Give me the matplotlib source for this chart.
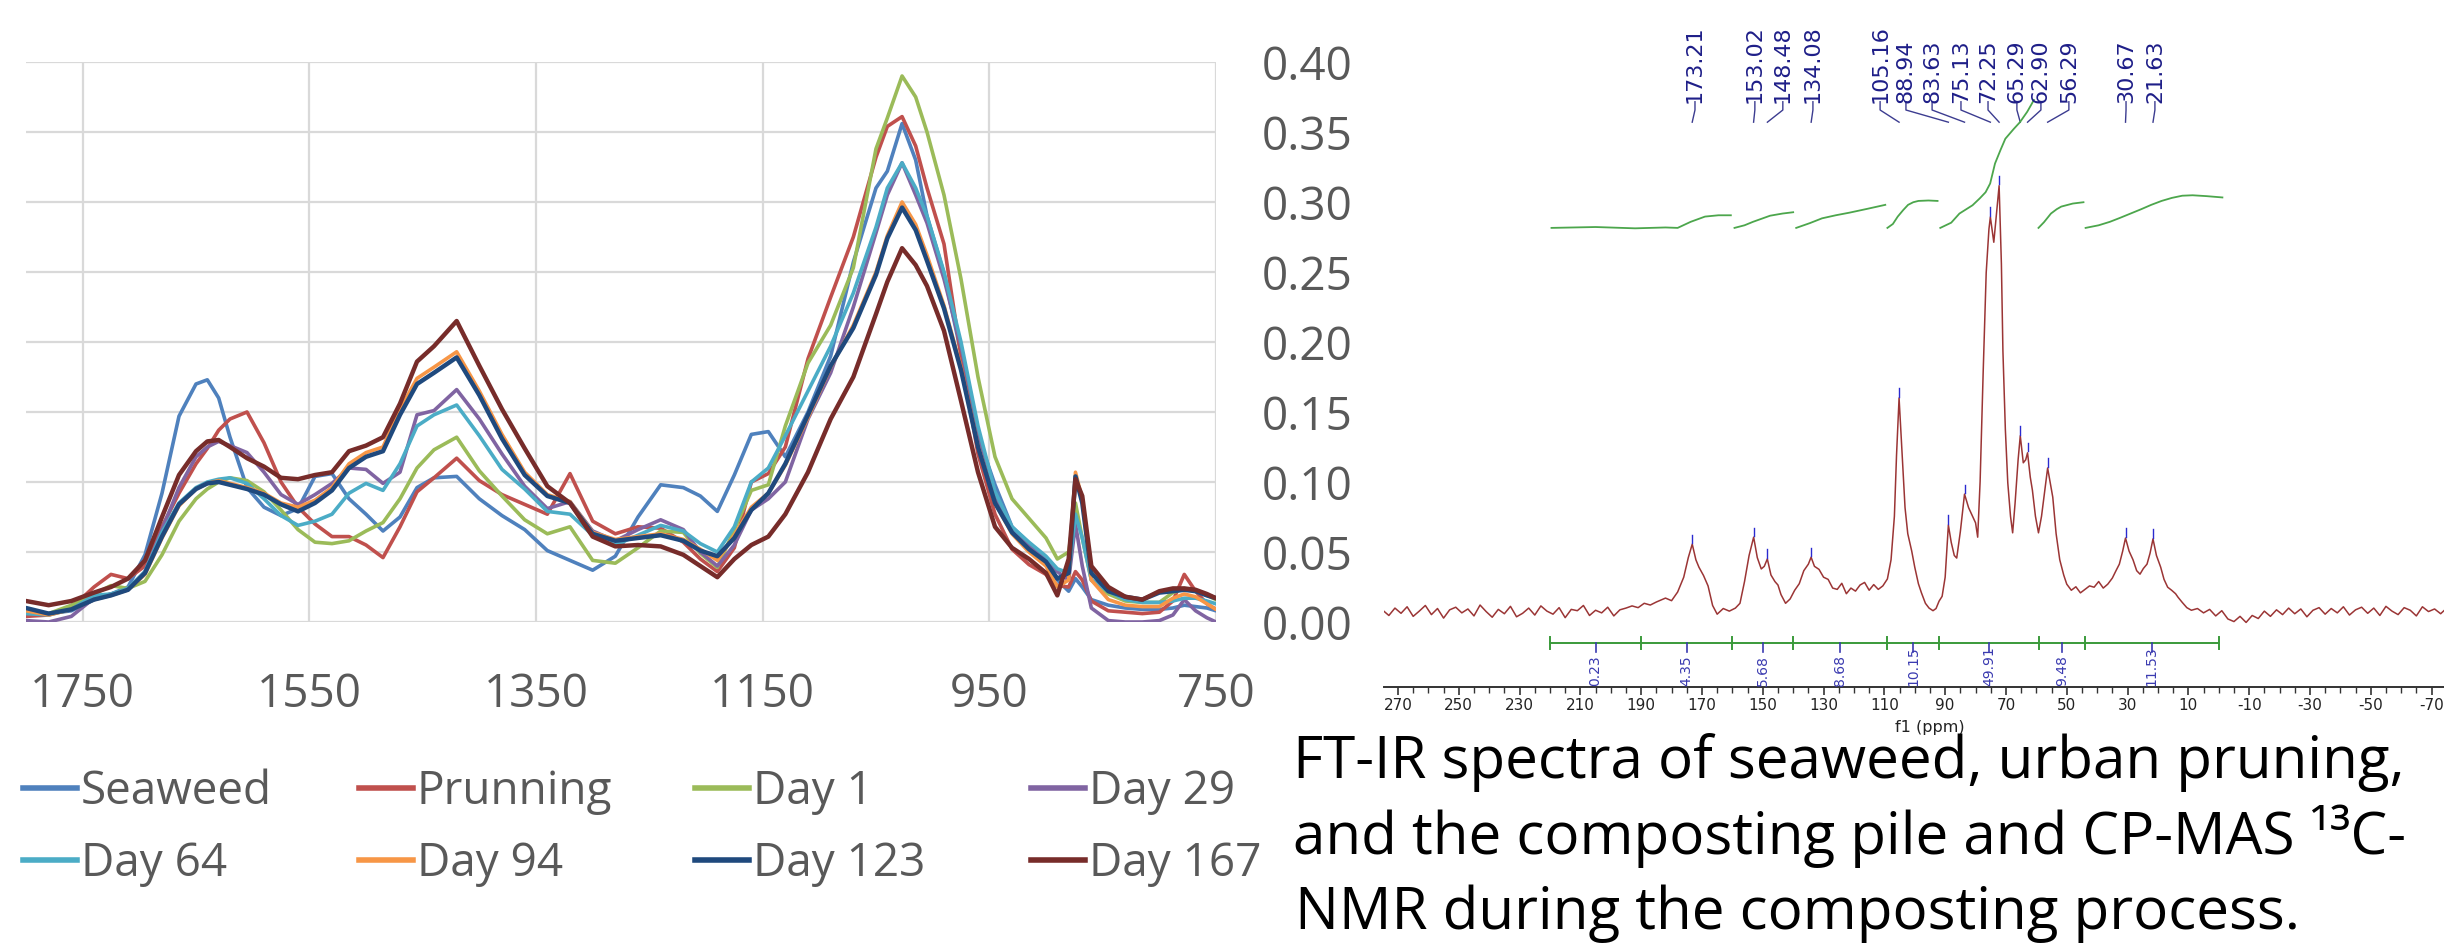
import numpy as np
import matplotlib.pyplot as plt
from matplotlib.lines import Line2D
from matplotlib.ticker import FixedLocator, MultipleLocator

# ============================================================
# Fonts
# ============================================================
plt.rcParams["font.family"] = ["Open Sans", "DejaVu Sans"]
nmr_font = "DejaVu Sans"

W, H = 2444, 944

# ============================================================
# FT-IR data (absorbance)
# ============================================================
wavenumber = [1800, 1780, 1760, 1740, 1725, 1710, 1695, 1680, 1665, 1650,
              1640, 1630, 1620, 1605, 1590, 1575, 1560, 1545, 1530, 1515,
              1500, 1485, 1470, 1455, 1440, 1420, 1400, 1380, 1360, 1340,
              1320, 1300, 1280, 1260, 1240, 1220, 1205, 1190, 1175, 1160,
              1145, 1130, 1110, 1090, 1070, 1050, 1040, 1027, 1015, 1005,
              990, 975, 960, 945, 930, 915, 900, 890, 880, 874,
              868, 860, 845, 830, 815, 800, 788, 778, 768, 758,
              750]

seaweed = [0.009, 0.006, 0.008, 0.016, 0.020, 0.025, 0.048, 0.092, 0.147, 0.170,
           0.173, 0.160, 0.132, 0.096, 0.082, 0.076, 0.081, 0.104, 0.106, 0.088,
           0.077, 0.065, 0.075, 0.096, 0.103, 0.104, 0.088, 0.076, 0.066, 0.051,
           0.044, 0.037, 0.047, 0.075, 0.098, 0.096, 0.090, 0.079, 0.105, 0.134,
           0.136, 0.118, 0.150, 0.190, 0.257, 0.310, 0.322, 0.356, 0.330, 0.290,
           0.249, 0.192, 0.133, 0.098, 0.068, 0.056, 0.045, 0.030, 0.022, 0.031,
           0.025, 0.016, 0.012, 0.010, 0.009, 0.009, 0.010, 0.012, 0.011, 0.010,
           0.008]
prunning = [0.004, 0.005, 0.010, 0.025, 0.034, 0.031, 0.040, 0.068, 0.092, 0.113,
            0.124, 0.137, 0.145, 0.150, 0.128, 0.100, 0.082, 0.070, 0.061, 0.061,
            0.055, 0.046, 0.068, 0.093, 0.103, 0.117, 0.101, 0.091, 0.084, 0.077,
            0.106, 0.072, 0.063, 0.068, 0.067, 0.057, 0.045, 0.036, 0.053, 0.100,
            0.106, 0.125, 0.188, 0.232, 0.275, 0.332, 0.354, 0.361, 0.340, 0.310,
            0.270, 0.190, 0.120, 0.077, 0.052, 0.041, 0.034, 0.026, 0.025, 0.036,
            0.030, 0.015, 0.008, 0.007, 0.006, 0.007, 0.015, 0.034, 0.022, 0.013,
            0.009]
day1 = [0.008, 0.006, 0.012, 0.020, 0.026, 0.024, 0.029, 0.048, 0.072, 0.088,
        0.095, 0.100, 0.103, 0.101, 0.093, 0.080, 0.066, 0.057, 0.056, 0.058,
        0.065, 0.071, 0.088, 0.110, 0.123, 0.132, 0.108, 0.090, 0.073, 0.063,
        0.068, 0.044, 0.042, 0.053, 0.065, 0.064, 0.049, 0.039, 0.066, 0.094,
        0.098, 0.140, 0.185, 0.212, 0.253, 0.338, 0.360, 0.390, 0.375, 0.350,
        0.305, 0.245, 0.175, 0.118, 0.088, 0.074, 0.060, 0.045, 0.050, 0.085,
        0.060, 0.030, 0.020, 0.015, 0.014, 0.014, 0.021, 0.024, 0.022, 0.019,
        0.016]
day29 = [0.001, 0.000, 0.004, 0.017, 0.020, 0.023, 0.036, 0.066, 0.096, 0.118,
         0.125, 0.129, 0.126, 0.121, 0.107, 0.091, 0.084, 0.091, 0.099, 0.110,
         0.109, 0.099, 0.107, 0.148, 0.151, 0.166, 0.145, 0.120, 0.097, 0.081,
         0.086, 0.065, 0.058, 0.066, 0.073, 0.066, 0.050, 0.040, 0.055, 0.080,
         0.088, 0.100, 0.145, 0.178, 0.225, 0.278, 0.305, 0.328, 0.305, 0.285,
         0.245, 0.197, 0.137, 0.090, 0.064, 0.054, 0.044, 0.036, 0.030, 0.070,
         0.040, 0.010, 0.001, 0.000, 0.000, 0.001, 0.005, 0.016, 0.008, 0.003,
         0.000]
day64 = [0.006, 0.005, 0.009, 0.019, 0.020, 0.024, 0.036, 0.064, 0.085, 0.096,
         0.100, 0.102, 0.103, 0.099, 0.088, 0.076, 0.069, 0.072, 0.077, 0.092,
         0.099, 0.094, 0.113, 0.140, 0.148, 0.155, 0.133, 0.109, 0.095, 0.079,
         0.077, 0.062, 0.055, 0.062, 0.069, 0.065, 0.056, 0.050, 0.068, 0.100,
         0.110, 0.133, 0.165, 0.197, 0.235, 0.282, 0.310, 0.328, 0.310, 0.290,
         0.250, 0.200, 0.140, 0.093, 0.068, 0.057, 0.047, 0.038, 0.035, 0.077,
         0.060, 0.030, 0.022, 0.016, 0.014, 0.014, 0.015, 0.017, 0.017, 0.015,
         0.013]
day94 = [0.008, 0.005, 0.009, 0.016, 0.019, 0.023, 0.034, 0.060, 0.083, 0.095,
         0.099, 0.101, 0.099, 0.096, 0.092, 0.085, 0.082, 0.087, 0.096, 0.113,
         0.121, 0.125, 0.152, 0.174, 0.182, 0.193, 0.165, 0.134, 0.107, 0.091,
         0.086, 0.064, 0.059, 0.061, 0.063, 0.059, 0.052, 0.044, 0.062, 0.082,
         0.092, 0.112, 0.146, 0.182, 0.212, 0.250, 0.276, 0.300, 0.284, 0.262,
         0.226, 0.182, 0.126, 0.085, 0.063, 0.050, 0.040, 0.025, 0.030, 0.107,
         0.088, 0.030, 0.016, 0.012, 0.011, 0.011, 0.017, 0.020, 0.018, 0.013,
         0.009]
day123 = [0.010, 0.006, 0.009, 0.016, 0.019, 0.023, 0.035, 0.061, 0.084, 0.095,
          0.099, 0.100, 0.098, 0.095, 0.091, 0.084, 0.079, 0.085, 0.094, 0.110,
          0.118, 0.122, 0.148, 0.170, 0.178, 0.189, 0.162, 0.131, 0.105, 0.090,
          0.085, 0.063, 0.058, 0.060, 0.062, 0.058, 0.051, 0.047, 0.060, 0.080,
          0.092, 0.113, 0.148, 0.183, 0.210, 0.248, 0.274, 0.296, 0.280, 0.258,
          0.224, 0.180, 0.125, 0.085, 0.064, 0.052, 0.043, 0.031, 0.035, 0.104,
          0.085, 0.035, 0.022, 0.018, 0.016, 0.021, 0.022, 0.023, 0.022, 0.019,
          0.017]
day167 = [0.015, 0.012, 0.015, 0.021, 0.025, 0.031, 0.044, 0.075, 0.105, 0.122,
          0.129, 0.130, 0.125, 0.117, 0.111, 0.103, 0.102, 0.105, 0.107, 0.122,
          0.126, 0.132, 0.156, 0.186, 0.197, 0.215, 0.183, 0.152, 0.124, 0.097,
          0.085, 0.061, 0.054, 0.055, 0.054, 0.048, 0.040, 0.032, 0.045, 0.055,
          0.061, 0.077, 0.107, 0.145, 0.175, 0.220, 0.243, 0.267, 0.255, 0.240,
          0.208, 0.158, 0.107, 0.068, 0.053, 0.045, 0.035, 0.019, 0.045, 0.102,
          0.090, 0.040, 0.025, 0.018, 0.016, 0.022, 0.024, 0.024, 0.023, 0.020,
          0.017]

series_names = ["Seaweed", "Prunning", "Day 1", "Day 29",
                "Day 64", "Day 94", "Day 123", "Day 167"]
series_values = [seaweed, prunning, day1, day29, day64, day94, day123, day167]
series_colors = ["#4f81bd", "#c0504d", "#9bbb59", "#8064a2",
                 "#4bacc6", "#f79646", "#1f497d", "#772c2a"]
series_widths = [2.6, 2.6, 2.6, 2.6, 2.6, 2.6, 3.2, 3.2]

ftir_xticks = [1750, 1550, 1350, 1150, 950, 750]
ftir_yticks = [0.00, 0.05, 0.10, 0.15, 0.20, 0.25, 0.30, 0.35, 0.40]

# ============================================================
# 13C CP-MAS NMR data (relative intensity, tallest peak = 100)
# ============================================================
nmr_left_ppm = np.arange(275, 186, -2)
nmr_left_int = [0.4, -0.8, 0.9, -0.3, 1.2, -1.0, 0.2, 1.5, -0.6, 0.8,
                -1.4, 0.5, 1.1, -0.2, 0.7, -0.9, 1.6, 0.1, -1.2, 0.6,
                -0.4, 1.3, -1.1, -0.3, 0.9, -0.7, 1.4, 0.2, -0.5, 1.0,
                -1.3, 0.6, 0.3, 1.5, -0.8, 0.4, -0.2, 1.1, -0.9, 0.5,
                0.9, 1.4, 1.0, 2.0, 1.6]
nmr_mid_ppm = [185, 182, 180, 178, 176, 174.5, 173.2, 172, 171, 169.5,
               168, 166.5, 165, 163, 161, 159, 157.5, 156, 154.5, 153.0,
               151.8, 150.5, 149.5, 148.5, 147.3, 146, 145, 144, 142.5, 141,
               139.5, 138, 136.5, 135, 134.1, 133, 131.5, 130, 128.5, 127,
               125.5, 124, 122.5, 121, 119.5, 118, 116.5, 115, 113.5, 112,
               110.5, 109, 107.8, 106.7, 106, 105.16, 104.3, 103.2, 102.3, 101,
               100, 98.8, 97.8, 96.5, 95.3, 94, 93, 92, 91, 90,
               88.94, 88, 87, 86.2, 85, 83.63, 82.3, 81, 80, 79.3,
               78.5, 77.5, 76.5, 75.6, 75.13, 74.0, 72.25, 71.5, 71, 70.2,
               69.4, 68.5, 67.8, 67, 66, 65.29, 64.3, 63.5, 62.9, 62.0,
               61.3, 60.3, 59.3, 58.3, 57.2, 56.29, 55.5, 54.6, 53.5, 52.3,
               51, 50, 48.5, 47, 45.5, 44, 42.5, 41, 39.5, 38,
               36.5, 35, 33.8, 32.7, 31.6, 30.67, 29.5, 28.2, 27, 25.9,
               24.8, 23.6, 22.6, 21.63, 20.5, 19.1, 18, 16.8, 15.5, 14.2,
               13.4, 12, 10.5, 9]
nmr_mid_int = [2.3, 3.2, 2.6, 4.6, 8.0, 12.5, 15.6, 12.0, 10.3, 8.4,
               6.0, 1.5, -0.5, 0.8, 0.2, 0.9, 2.0, 7.0, 13.0, 17.2,
               12.5, 9.9, 10.5, 12.2, 8.5, 7.0, 6.2, 4.0, 2.0, 3.0,
               5.0, 6.5, 9.5, 11.0, 12.6, 10.5, 9.8, 8.0, 7.5, 5.5,
               5.2, 6.6, 4.2, 5.5, 4.8, 6.2, 6.8, 5.0, 6.3, 5.2,
               6.0, 7.6, 12.0, 22.0, 36.0, 49.2, 38.0, 24.0, 18.0, 14.0,
               10.3, 6.5, 4.4, 2.0, 0.9, 0.3, 0.8, 2.5, 3.6, 8.0,
               20.0, 16.0, 13.0, 12.4, 18.5, 27.1, 24.0, 22.0, 20.5, 17.2,
               30.0, 55.0, 78.0, 88.0, 90.8, 85.0, 98.0, 80.0, 60.0, 42.0,
               29.7, 22.0, 18.2, 25.0, 35.0, 40.5, 34.3, 35.0, 36.6, 31.0,
               28.0, 22.0, 18.2, 22.0, 28.0, 33.1, 30.0, 26.4, 18.0, 12.0,
               8.5, 6.4, 5.0, 5.8, 4.4, 5.2, 6.0, 5.7, 7.0, 5.5,
               6.4, 7.8, 9.5, 11.0, 14.0, 17.0, 14.0, 12.0, 9.5, 8.7,
               10.0, 11.0, 13.5, 16.8, 13.0, 10.3, 7.5, 5.7, 5.0, 4.2,
               3.4, 2.2, 1.0, 0.4]
nmr_right_ppm = np.arange(7, -76, -2)
nmr_right_int = [0.8, -0.2, 0.6, -0.9, 0.3, -1.6, -2.2, -1.0, -2.4, -0.8,
                 -1.5, 0.2, -1.0, 0.5, -0.6, 0.9, -0.4, 0.7, -1.1, 0.4,
                 1.0, -0.5, 0.8, -0.2, 1.2, -0.7, 0.5, 1.1, -0.3, 0.9,
                 -0.8, 1.3, 0.2, -0.6, 1.0, 0.4, -0.9, 1.2, 0.1, 0.7,
                 -0.4, 0.9]

peak_ppm = [173.21, 153.02, 148.48, 134.08, 105.16, 88.94, 83.63,
            75.13, 72.25, 65.29, 62.90, 56.29, 30.67, 21.63]
peak_height = [15.6, 17.2, 12.2, 12.6, 49.2, 20.0, 27.1,
               90.8, 98.0, 40.5, 36.6, 33.1, 17.0, 16.8]
peak_label_ppm = [172.3, 152.6, 143.4, 133.5, 111.4, 102.9, 94.3,
                  84.8, 75.9, 66.4, 58.5, 49.3, 30.5, 21.0]

integ_edges = [220, 190, 160, 140, 109, 92, 59, 44, 0]
integ_values = [0.23, 4.35, 5.68, 8.68, 10.15, 49.91, 9.48, 11.53]

integ_curve_ppm = [
    [219.5, 205, 192, 182, 178, 173.7, 169, 164.6, 160.5],
    [159.3, 156, 153.2, 150, 147.6, 143.5, 140],
    [139, 134.5, 130.5, 126, 121.5, 115.5, 109.7],
    [109, 107.2, 105.6, 103.8, 102.2, 100.5, 98.8, 95.5, 92.5],
    [91.6, 88, 85.3, 81, 78.6, 76.7, 75.2, 73.6, 71.8, 70.2, 67.5, 65.4, 63, 60.8],
    [59.3, 57.5, 55.2, 53.3, 51.8, 48, 44.5],
    [43.8, 39.5, 35.8, 32.5, 29, 25.5, 22.2, 18.8, 15.4, 12, 8.6, 4, -1.2],
]
integ_curve_y = [
    [88.3, 88.5, 88.2, 88.4, 88.3, 89.7, 90.9, 91.2, 91.2],
    [88.3, 88.9, 89.7, 90.5, 91.1, 91.6, 91.9],
    [88.3, 89.4, 90.5, 91.2, 91.8, 92.7, 93.6],
    [88.3, 89.2, 90.9, 92.4, 93.6, 94.2, 94.5, 94.6, 94.5],
    [88.3, 89.5, 91.6, 93.5, 95.1, 96.5, 98.5, 103.1, 106.2, 108.8, 111.0, 112.6, 115.0, 117.7],
    [88.3, 89.6, 91.6, 92.6, 93.2, 93.9, 94.2],
    [88.3, 88.9, 89.7, 90.6, 91.6, 92.6, 93.6, 94.5, 95.2, 95.7, 95.8, 95.6, 95.3],
]

nmr_xticks = [270, 250, 230, 210, 190, 170, 150, 130, 110, 90,
              70, 50, 30, 10, -10, -30, -50, -70]

caption_lines = ["FT-IR spectra of seaweed, urban pruning,",
                 "and the composting pile and CP-MAS \u00b9\u00b3C-",
                 "NMR during the composting process."]

# ============================================================
# Figure
# ============================================================
fig = plt.figure(figsize=(W / 100, H / 100), dpi=100)
fig.patch.set_facecolor("white")

# ---------------- FT-IR panel ----------------
ax1 = fig.add_axes([26 / W, 1 - 622 / H, (1216 - 26) / W, (622 - 62) / H])
for name, vals, color, lw in zip(series_names, series_values, series_colors, series_widths):
    ax1.plot(wavenumber, vals, color=color, lw=lw, label=name,
             solid_joinstyle="round", solid_capstyle="round")

ax1.set_xlim(1800, 750)
ax1.set_ylim(0, 0.40)
ax1.set_xticks(ftir_xticks)
ax1.set_xticklabels([str(t) for t in ftir_xticks])
ax1.set_yticks(ftir_yticks)
ax1.set_yticklabels([f"{v:.2f}" for v in ftir_yticks])
ax1.yaxis.tick_right()
ax1.tick_params(axis="both", length=0, labelsize=33, labelcolor="#595959")
ax1.tick_params(axis="x", pad=36)
ax1.tick_params(axis="y", pad=33)
ax1.grid(True, color="#d9d9d9", lw=1.6)
ax1.set_axisbelow(True)
for s in ax1.spines.values():
    s.set_visible(False)

# legend laid out like the Excel one: 4 columns x 2 rows
leg_x0, leg_dx, leg_rows = 23, 336, [788, 860]
for i, (name, color) in enumerate(zip(series_names, series_colors)):
    row, col = divmod(i, 4)
    x0 = leg_x0 + col * leg_dx
    y0 = leg_rows[row]
    fig.add_artist(Line2D([x0 / W, (x0 + 54) / W], [1 - y0 / H, 1 - y0 / H],
                          transform=fig.transFigure, color=color, lw=4))
    fig.text((x0 + 58) / W, 1 - (y0 + 16) / H, name, fontsize=33,
             color="#595959", ha="left", va="baseline")

# ---------------- NMR panel ----------------
px_per_unit = 4.35
ax2 = fig.add_axes([1384 / W, 1 - 687 / H, (W - 1384) / W, 687 / H])
ax2.patch.set_visible(False)
ax2.set_xlim(274.6, -74.1)
ax2.set_ylim(-75 / px_per_unit, 612 / px_per_unit)

nmr_ppm = np.concatenate([nmr_left_ppm, nmr_mid_ppm, nmr_right_ppm])
nmr_int = np.concatenate([nmr_left_int, nmr_mid_int, nmr_right_int])
ax2.plot(nmr_ppm, nmr_int, color="#9b3535", lw=1.1)

# peak picking labels
label_bottom, bend_y, conn_end = 117.0, 115.4, 112.6
for p, h, lp in zip(peak_ppm, peak_height, peak_label_ppm):
    ax2.text(lp, label_bottom, f"{p:.2f}", rotation=90, ha="center", va="bottom",
             fontsize=16, family=nmr_font, color="#1e1e88")
    ax2.plot([lp, lp, p], [label_bottom + 0.3, bend_y, conn_end], color="#3c3c90", lw=1.0)
    ax2.plot([p, p], [h + 0.3, h + 2.2], color="#2a2ad0", lw=1.0)

# integral curves
for xs, ys in zip(integ_curve_ppm, integ_curve_y):
    ax2.plot(xs, ys, color="#4ca64c", lw=1.3)

# integration bar
bar_y = -7.1
ax2.plot([integ_edges[0], integ_edges[-1]], [bar_y, bar_y], color="#3a9a3a", lw=1.4)
for e in integ_edges:
    ax2.plot([e, e], [bar_y - 1.3, bar_y + 1.3], color="#3a9a3a", lw=1.4)
for a, b, v in zip(integ_edges[:-1], integ_edges[1:], integ_values):
    m = (a + b) / 2
    ax2.plot([m, m], [bar_y, bar_y - 2.2], color="#3a3ab0", lw=1.2)
    ax2.text(m, -16.9, f"{v:.2f}", rotation=90, ha="center", va="bottom",
             fontsize=10, family=nmr_font, color="#3a3ab0")

# axis
for side in ["left", "right", "top"]:
    ax2.spines[side].set_visible(False)
ax2.spines["bottom"].set_color("#333333")
ax2.spines["bottom"].set_linewidth(1.4)
ax2.set_yticks([])
ax2.xaxis.set_major_locator(FixedLocator(nmr_xticks))
ax2.xaxis.set_minor_locator(MultipleLocator(5))
ax2.set_xticklabels([str(t) for t in nmr_xticks], family=nmr_font,
                    fontsize=11, color="#222222")
ax2.tick_params(axis="x", which="major", length=6, width=1.2, color="#333333", pad=2)
ax2.tick_params(axis="x", which="minor", length=4, width=1.0, color="#333333")
ax2.set_xlabel("f1 (ppm)", family=nmr_font, fontsize=11.5, color="#222222")
ax2.xaxis.set_label_coords((1930 - 1384) / (W - 1384), -0.048)

# ---------------- caption ----------------
caption_x = [1293, 1293, 1295]
caption_base = [778, 854, 929]
for line, x, yb in zip(caption_lines, caption_x, caption_base):
    fig.text(x / W, 1 - yb / H, line, fontsize=42, color="black",
             ha="left", va="baseline")

fig.savefig("out.png", dpi=100)
